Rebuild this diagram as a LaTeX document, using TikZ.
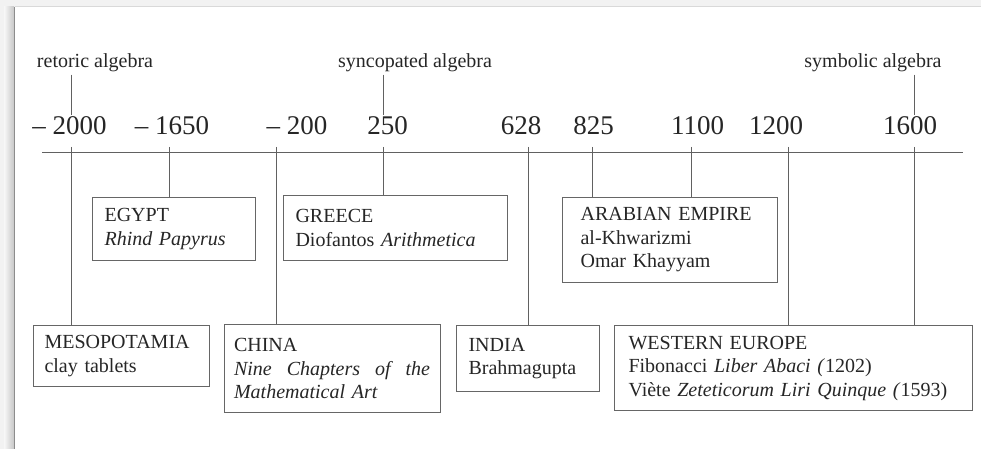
\documentclass[tikz,border=0pt]{standalone}
\usepackage{fontspec}
\setmainfont{Liberation Serif}
\begin{document}
\begin{tikzpicture}[x=1pt,y=-1pt,
  every node/.style={text=black!85},
  lbl/.style={font=\fontsize{20}{23.5}\selectfont, anchor=base, inner sep=2pt},
  yr/.style={font=\fontsize{27}{30}\selectfont, anchor=base, inner sep=2pt},
  box/.style={draw=black!60, line width=1.1pt, anchor=north west, inner ysep=0pt, inner xsep=12pt, align=left, font=\fontsize{20}{23.5}\selectfont},
  ln/.style={draw=black!62, line width=1pt}]
\useasboundingbox (0,0) rectangle (981,449);
% page frame
\fill[black!5] (0,0) rectangle (981,449);
\shade[left color=black!3, right color=black!22] (4,7) rectangle (14,449);
\fill[white] (15,7) rectangle (981,449);
\draw[black!15, line width=1pt] (15,6.5) -- (981,6.5);
\draw[black!45, line width=1.5pt] (14.5,7) -- (14.5,449);

% labels
\node[lbl] (retoric) at (95,68) {retoric algebra};
\node[lbl] (syncop) at (415,68) {syncopated algebra};
\node[lbl] (symbol) at (873,68) {symbolic algebra};

% years
\node[yr] (y2000) at (69.5,135) {-- 2000};
\node[yr] (y1650) at (172,135) {-- 1650};
\node[yr] (y200) at (297,135) {-- 200};
\node[yr] (y250) at (387.5,135) {250};
\node[yr] (y628) at (521,135) {628};
\node[yr] (y825) at (593.5,135) {825};
\node[yr] (y1100) at (697.5,135) {1100};
\node[yr] (y1200) at (776,135) {1200};
\node[yr] (y1600) at (910,135) {1600};

% timeline
\coordinate (tl) at (42,153);
\coordinate (tr) at (963,153);
\draw[ln] (tl) -- (tr);

\coordinate (p2000) at (71,147);
\coordinate (p1650) at (169,147);
\coordinate (p200) at (276.5,147);
\coordinate (p250) at (383,147);
\coordinate (p628) at (528,147);
\coordinate (p825) at (592,147);
\coordinate (p1100) at (691,147);
\coordinate (p1200) at (788,147);
\coordinate (p1600) at (914,147);

% boxes
\node[box, text width=139pt, minimum height=63pt] (egypt) at (92,197) {EGYPT\\\textit{Rhind Papyrus}};
\node[box, text width=200pt, minimum height=65pt] (greece) at (283,195) {GREECE\\Diofantos \textit{Arithmetica}};
\node[box, inner xsep=18pt, text width=179pt, minimum height=85pt] (arab) at (562,197) {ARABIAN EMPIRE\\al-Khwarizmi\\Omar Khayyam};
\node[box, inner xsep=11pt, text width=154pt, minimum height=61pt] (meso) at (33,325) {MESOPOTAMIA\\clay tablets};
\node[box, inner xsep=9.5pt, text width=197pt, minimum height=88pt] (china) at (224,324) {CHINA\\\leavevmode\hbox to 196pt{\itshape Nine\hfill Chapters\hfill of\hfill the}\\\textit{Mathematical Art}};
\node[box, text width=119pt, minimum height=66pt] (india) at (456,325) {INDIA\\Brahmagupta};
\node[box, inner xsep=14pt, text width=330pt, minimum height=85pt] (weur) at (614,325) {WESTERN EUROPE\\Fibonacci \textit{Liber Abaci (}1202)\\Viète \textit{Zeteticorum Liri Quinque (}1593)};

% upper ticks
\draw[ln] (retoric.south -| p2000) -- (y2000.north -| p2000);
\draw[ln] (syncop.south -| p250) -- (y250.north -| p250);
\draw[ln] (symbol.south -| p1600) -- (y1600.north -| p1600);

% lower ticks
\draw[ln] (p2000) -- (p2000 |- meso.north);
\draw[ln] (p1650) -- (p1650 |- egypt.north);
\draw[ln] (p200) -- (p200 |- china.north);
\draw[ln] (p250) -- (p250 |- greece.north);
\draw[ln] (p628) -- (p628 |- india.north);
\draw[ln] (p825) -- (p825 |- arab.north);
\draw[ln] (p1100) -- (p1100 |- arab.north);
\draw[ln] (p1200) -- (p1200 |- weur.north);
\draw[ln] (p1600) -- (p1600 |- weur.north);
\end{tikzpicture}
\end{document}
